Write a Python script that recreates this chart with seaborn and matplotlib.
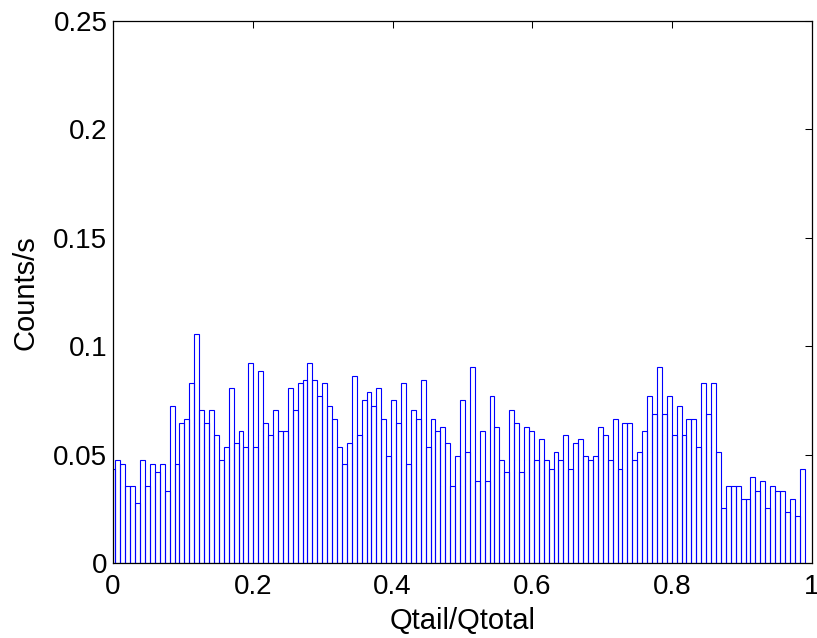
import numpy as np
import pandas as pd
import matplotlib
matplotlib.use("Agg")
import matplotlib.pyplot as plt
import seaborn as sns

# Count rate per Qtail/Qtotal bin (141 bins, width 1/142, first bin centred on 0)
rates = [
    0.0436, 0.0477, 0.0457, 0.0355, 0.0355, 0.0279, 0.0477, 0.0355, 0.0457, 0.0419,
    0.0457, 0.0334, 0.0725, 0.0457, 0.0649, 0.0667, 0.0829, 0.1059, 0.0708, 0.0649,
    0.0708, 0.0590, 0.0477, 0.0535,
    0.0809, 0.0553, 0.0611, 0.0535, 0.0923, 0.0535, 0.0885, 0.0649, 0.0590, 0.0705,
    0.0611, 0.0611, 0.0809, 0.0705, 0.0829, 0.0846, 0.0923, 0.0846, 0.0769, 0.0829,
    0.0725, 0.0667, 0.0535, 0.0457,
    0.0553, 0.0865, 0.0590, 0.0751, 0.0789, 0.0725, 0.0809, 0.0667, 0.0495, 0.0751,
    0.0647, 0.0829, 0.0457, 0.0705, 0.0667, 0.0846, 0.0535, 0.0667, 0.0609, 0.0629,
    0.0553, 0.0355, 0.0495,
    0.0751, 0.0513, 0.0903, 0.0379, 0.0611, 0.0379, 0.0769, 0.0629, 0.0477, 0.0419,
    0.0705, 0.0647, 0.0419, 0.0629, 0.0609, 0.0477, 0.0573, 0.0477, 0.0437, 0.0513,
    0.0477, 0.0590, 0.0437, 0.0553,
    0.0573, 0.0495, 0.0477, 0.0495, 0.0629, 0.0590, 0.0477, 0.0667, 0.0437, 0.0647,
    0.0647, 0.0477, 0.0513, 0.0611, 0.0769, 0.0686, 0.0903, 0.0686, 0.0769, 0.0590,
    0.0725, 0.0590, 0.0667,
    0.0667, 0.0535, 0.0829, 0.0686, 0.0829, 0.0512, 0.0257, 0.0355, 0.0355, 0.0355,
    0.0295, 0.0295, 0.0399, 0.0334, 0.0379, 0.0257, 0.0355, 0.0334, 0.0334, 0.0238,
    0.0295, 0.0219, 0.0437,
]
n_bins = 142
bin_width = 1.0 / n_bins

xticks = [0, 0.2, 0.4, 0.6, 0.8, 1.0]
xticklabels = ["0", "0.2", "0.4", "0.6", "0.8", "1"]
yticks = [0, 0.05, 0.1, 0.15, 0.2, 0.25]
yticklabels = ["0", "0.05", "0.1", "0.15", "0.2", "0.25"]

centers = np.arange(len(rates)) * bin_width
df = pd.DataFrame({"q": centers, "rate": rates})

sns.set_style("white")
plt.rcParams["font.family"] = ["Liberation Sans", "DejaVu Sans"]
plt.rcParams["text.color"] = "black"
plt.rcParams["axes.labelcolor"] = "black"

fig = plt.figure(figsize=(8.17, 6.38), dpi=100)
ax = fig.add_axes([113 / 817, 1 - 563.3 / 638, 699 / 817, 542.3 / 638])

sns.histplot(data=df, x="q", weights="rate", binwidth=bin_width,
             binrange=(-bin_width / 2, centers[-1] + bin_width / 2),
             fill=False, color="#0000ff", linewidth=0.8, ax=ax)

ax.set_xlim(0, 1)
ax.set_ylim(0, 0.25)
ax.set_xticks(xticks)
ax.set_xticklabels(xticklabels)
ax.set_yticks(yticks)
ax.set_yticklabels(yticklabels)
ax.tick_params(axis="both", which="both", direction="in", length=5, width=0.75,
               top=True, right=True, labelsize=20, colors="black")
ax.tick_params(axis="x", pad=8)
ax.tick_params(axis="y", pad=4)
for s in ax.spines.values():
    s.set_visible(True)
    s.set_color("black")
    s.set_linewidth(0.9)

ax.set_xlabel("Qtail/Qtotal", fontsize=21, color="black", labelpad=5)
ax.set_ylabel("Counts/s", fontsize=21, color="black", labelpad=10)

fig.savefig("out.png", dpi=100)
